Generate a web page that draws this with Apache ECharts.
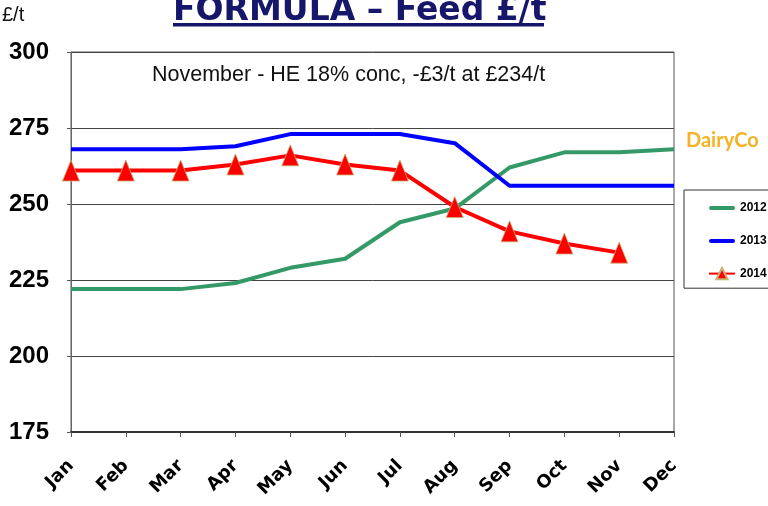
<!DOCTYPE html>
<html><head><meta charset="utf-8">
<script src="https://cdn.jsdelivr.net/npm/echarts@6/dist/echarts.min.js"></script>
<style>html,body{margin:0;padding:0;background:#fff}#c{width:768px;height:506px}</style>
</head><body><div id="c"></div>
<script>
const months = ['Jan','Feb','Mar','Apr','May','Jun','Jul','Aug','Sep','Oct','Nov','Dec'];
const s2012 = [222,222,222,224,229,232,244,248.5,262,267,267,268];
const s2013 = [268,268,268,269,273,273,273,270,256,256,256,256];
const s2014 = [261,261,261,263,266,263,261,249,241,237,234];
const yTicks = {min:175, max:300, interval:25};

const lineIcon = 'path://M0,0L26,0L26,0.001Z M2,5 L24,5 A2,2 0 0 1 24,9 L2,9 A2,2 0 0 1 2,5Z M0,14L26,14L26,13.999Z';

const chart = echarts.init(document.getElementById('c'));
chart.setOption({
  animation:false,
  backgroundColor:'#fff',
  grid:{left:71,right:94,top:52,bottom:74,show:true,borderColor:'#555',borderWidth:1},
  graphic:[
    {type:'text',left:173,top:-5,style:{text:'FORMULA \u2013 Feed \u00a3/t',fill:'#16166a',font:'bold 33px "DejaVu Sans"'}},
    {type:'rect',shape:{x:173,y:23,width:371,height:3.5},style:{fill:'#16166a'}},
    {type:'text',left:2,top:5,style:{text:'\u00a3/t',fill:'#111',font:'20px "Liberation Sans"'}},
    {type:'text',left:152,top:64,style:{text:'November - HE 18% conc, -\u00a33/t at \u00a3234/t',fill:'#111',font:'21.5px "Liberation Sans"'}},
    {type:'text',left:686,top:131,style:{text:'DairyCo',fill:'#f4b324',font:'bold 20px Lato'}}
  ],
  legend:{
    orient:'vertical',left:684,top:190,
    padding:[11,40,8,24],
    borderColor:'#333',borderWidth:1,
    itemWidth:26,itemHeight:14,itemGap:19,itemTextGap:3,
    textStyle:{fontSize:12,fontWeight:'bold',color:'#000',fontFamily:'"Liberation Sans"'},
    data:[{name:'2012',icon:lineIcon},{name:'2013',icon:lineIcon},{name:'2014'}]
  },
  xAxis:{
    type:'category',data:months,boundaryGap:false,
    axisLine:{lineStyle:{color:'#333',width:2}},
    axisTick:{show:true,length:5,lineStyle:{color:'#555'}},
    axisLabel:{rotate:45,margin:31,fontSize:18,fontWeight:'bold',color:'#000',fontFamily:'"DejaVu Sans"'}
  },
  yAxis:{
    type:'value',min:yTicks.min,max:yTicks.max,interval:yTicks.interval,
    axisLine:{show:true,lineStyle:{color:'#666'}},
    axisTick:{show:true,length:4,lineStyle:{color:'#555'}},
    splitLine:{lineStyle:{color:'#444',width:1}},
    axisLabel:{fontSize:24,fontWeight:'bold',color:'#000',margin:22,fontFamily:'"Liberation Sans"'}
  },
  series:[
    {name:'2012',type:'line',data:s2012,symbol:'none',lineStyle:{color:'#339966',width:4},itemStyle:{color:'#339966'}},
    {name:'2013',type:'line',data:s2013,symbol:'none',lineStyle:{color:'#0000ff',width:4},itemStyle:{color:'#0000ff'}},
    {name:'2014',type:'line',data:s2014,symbol:'triangle',symbolSize:[17,21],showAllSymbol:true,
      lineStyle:{color:'#ff0000',width:4},itemStyle:{color:'#ff0000',borderColor:'#c8b070',borderWidth:0.8},z:5}
  ]
});
</script></body></html>
